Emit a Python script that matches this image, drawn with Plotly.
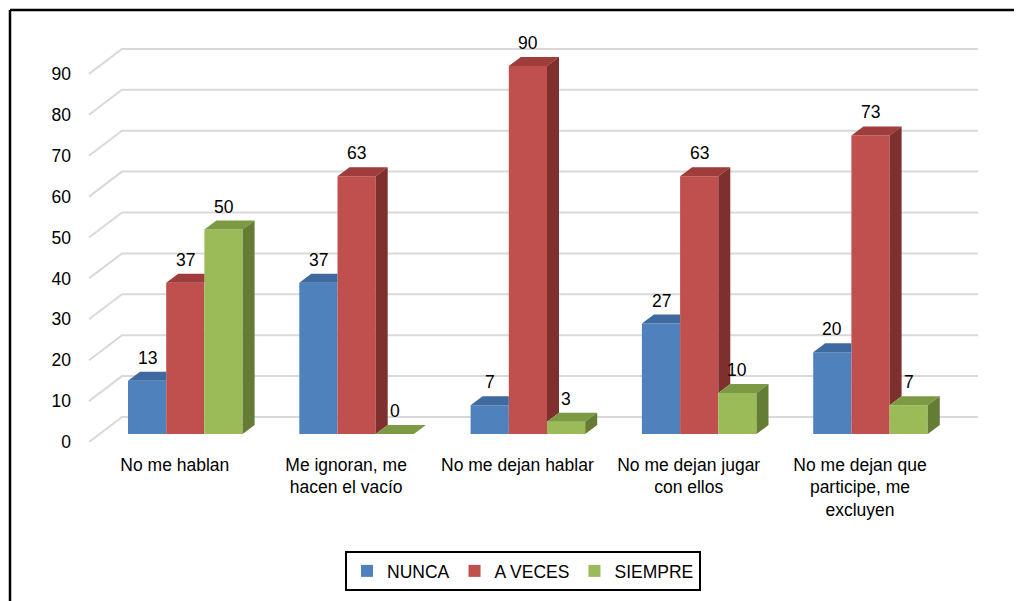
import plotly.graph_objects as go

# ---------------- data ----------------
categories = ["No me hablan", "Me ignoran, me<br>hacen el vacío", "No me dejan hablar",
              "No me dejan jugar<br>con ellos", "No me dejan que<br>participe, me<br>excluyen"]
nunca = [13, 37, 7, 27, 20]
a_veces = [37, 63, 90, 63, 73]
siempre = [50, 0, 3, 10, 7]
series_names = ["NUNCA", "A VECES", "SIEMPRE"]
y_ticks = [0, 10, 20, 30, 40, 50, 60, 70, 80, 90]

front_colors = ["#4f81bd", "#c0504d", "#9bbb59"]
top_colors = ["#3f6a9f", "#9e3d3b", "#7c9a44"]
side_colors = ["#36597f", "#7e2f2e", "#657c34"]

# ---------------- layout calibration (page pixels) ----------------
OFF = 8                        # default body margin of the html page
PAGE_W, PAGE_H = 1022, 601
W, H = PAGE_W - OFF, PAGE_H - OFF
PL, PR, PT, PB = 80, 990, 30, 442
X0_PX, SX = 185.3, 171.3      # pixel of first category, px per category
Y0_PX, SY = 434.0, 4.09       # pixel of value 0 at bar front, px per unit
x_range = [(PL - X0_PX) / SX, (PR - X0_PX) / SX]
y_range = [(Y0_PX - PB) / SY, (Y0_PX - PT) / SY]

BW = 38.2 / SX                # bar width (data units)
DDX, DDY = 12 / SX, 9 / SY    # bar depth projection
FX, FY = -10.5 / SX, -8 / SY  # front floor offset from bar front plane
WDX, WDY = 33 / SX, 25 / SY   # wall depth projection
X_LEFT = (89 - X0_PX) / SX
X_RIGHT = (978 - X0_PX) / SX

series = [nunca, a_veces, siempre]
font_family = "Liberation Sans, Arial, sans-serif"
FS = 17.5

fig = go.Figure()

# front faces as real bars
for k, (name, vals) in enumerate(zip(series_names, series)):
    fig.add_trace(go.Bar(
        x=list(range(len(categories))), y=vals, name=name,
        marker=dict(color=front_colors[k], line=dict(width=0)),
        offsetgroup=str(k), hoverinfo="skip",
    ))

# 3D top and side faces
for k, vals in enumerate(series):
    tx, ty, sx_, sy_ = [], [], [], []
    for i, v in enumerate(vals):
        c = i + (k - 1) * BW
        xl, xr = c - BW / 2, c + BW / 2
        nxt = series[k + 1][i] if k + 1 < len(series) else 0
        # top face (clipped if next bar taller)
        if k + 1 < len(series) and nxt >= v + DDY:
            tx += [xl, xr, xr, xl + DDX, xl, None]
            ty += [v, v, v + DDY, v + DDY, v, None]
        else:
            tx += [xl, xr, xr + DDX, xl + DDX, xl, None]
            ty += [v, v, v + DDY, v + DDY, v, None]
        # side face (visible above next bar)
        if v > nxt:
            sx_ += [xr, xr, xr + DDX, xr + DDX, xr, None]
            sy_ += [nxt, v, v + DDY, nxt + DDY, nxt, None]
    fig.add_trace(go.Scatter(x=tx, y=ty, mode="lines", fill="toself",
                             fillcolor=top_colors[k], line=dict(width=0),
                             showlegend=False, hoverinfo="skip"))
    if sx_:
        fig.add_trace(go.Scatter(x=sx_, y=sy_, mode="lines", fill="toself",
                                 fillcolor=side_colors[k], line=dict(width=0),
                                 showlegend=False, hoverinfo="skip"))

# grid lines (floor-left edge + back wall)
shapes = []
for v in y_ticks:
    yf = v + FY
    xb = X_LEFT + WDX
    yb = yf + WDY
    shapes.append(dict(type="path", xref="x", yref="y", layer="below",
                       path=f"M {X_LEFT},{yf} L {xb},{yb} L {X_RIGHT},{yb}",
                       line=dict(color="#d9d9d9", width=2)))

# outer frame (left and top edges)
def px_to_paper_x(px):
    return (px - PL) / (PR - PL)

def px_to_paper_y(py):
    return (PB - py) / (PB - PT)

shapes.append(dict(type="line", xref="paper", yref="paper",
                   x0=px_to_paper_x(10), x1=px_to_paper_x(1040),
                   y0=px_to_paper_y(10), y1=px_to_paper_y(10),
                   line=dict(color="black", width=2.5)))
shapes.append(dict(type="line", xref="paper", yref="paper",
                   x0=px_to_paper_x(10), x1=px_to_paper_x(10),
                   y0=px_to_paper_y(10), y1=px_to_paper_y(620),
                   line=dict(color="black", width=2.5)))

# value labels
annotations = []
for k, vals in enumerate(series):
    for i, v in enumerate(vals):
        annotations.append(dict(x=i + (k - 1) * BW, y=v, text=str(v), showarrow=False,
                                yshift=23, xref="x", yref="y",
                                font=dict(size=FS, color="black", family=font_family)))

fig.update_layout(
    width=W, height=H,
    margin=dict(l=PL - OFF, r=PAGE_W - PR, t=PT - OFF, b=PAGE_H - PB, pad=0, autoexpand=False),
    paper_bgcolor="white", plot_bgcolor="white",
    barmode="group", bargap=1 - 3 * BW, bargroupgap=0,
    font=dict(family=font_family, size=FS, color="black"),
    shapes=shapes, annotations=annotations,
    xaxis=dict(range=x_range, showgrid=False, zeroline=False, showline=False,
               tickmode="array", tickvals=[i + FX for i in range(len(categories))],
               ticktext=categories, ticks="", tickangle=0,
               tickfont=dict(size=FS, color="black"), ticklabelstandoff=10),
    yaxis=dict(range=y_range, showgrid=False, zeroline=False, showline=False,
               tickmode="array", tickvals=[v + FY for v in y_ticks],
               ticktext=[str(v) for v in y_ticks], ticks="",
               tickfont=dict(size=FS, color="black"), ticklabelstandoff=8),
    legend=dict(orientation="h", xref="container", yref="container",
                x=(523 - OFF) / W, y=1 - (551 - OFF) / H, xanchor="center", yanchor="top",
                bordercolor="black", borderwidth=2, bgcolor="white",
                font=dict(size=FS, color="black"), traceorder="normal"),
    showlegend=True,
)

fig.write_html("out.html")
